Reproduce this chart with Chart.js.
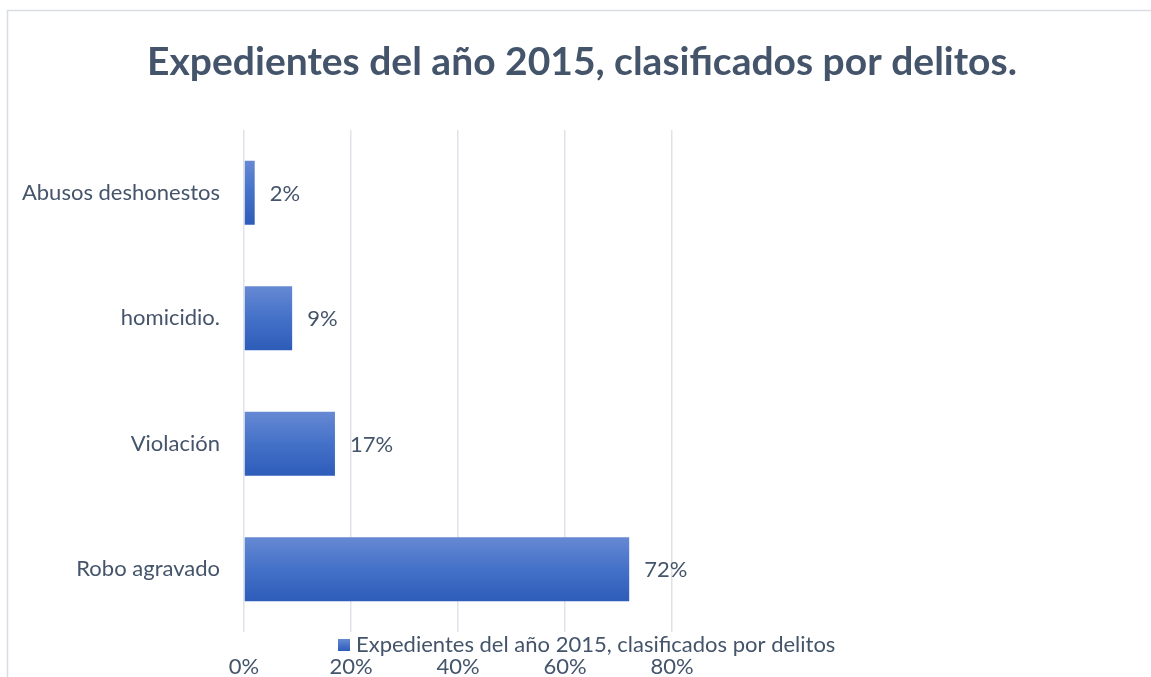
<!DOCTYPE html>
<html>
<head>
<meta charset="utf-8">
<script src="https://cdn.jsdelivr.net/npm/chart.js@4.4.1/dist/chart.umd.min.js"></script>
<style>
  html, body { margin: 0; padding: 0; background: #fff; }
  #wrap { position: relative; width: 1151px; height: 677px; }
</style>
</head>
<body>
<div id="wrap"><canvas id="barChart" width="1151" height="677"></canvas></div>
<script>
// chart data
const titleText = 'Expedientes del año 2015, clasificados por delitos.';
const seriesName = 'Expedientes del año 2015, clasificados por delitos';
const categories = ['Abusos deshonestos', 'homicidio.', 'Violación', 'Robo agravado'];
const values = [0.02, 0.09, 0.17, 0.72];
const tickValues = [0, 0.2, 0.4, 0.6, 0.8];

const textColor = '#44546a';
const FONT = 'Lato';

// per-bar vertical gradient, lighter on top
function barFill(context) {
    const chart = context.chart;
    if (!chart.chartArea || context.dataIndex === undefined) return '#4472c4';
    const y = chart.scales.y.getPixelForValue(context.dataIndex);
    const half = 32;
    const g = chart.ctx.createLinearGradient(0, y - half, 0, y + half);
    g.addColorStop(0, '#6689d3');
    g.addColorStop(0.5, '#4471c8');
    g.addColorStop(1, '#2d5cb9');
    return g;
}

// frame, title, value labels and legend drawn on the canvas
const extras = {
    id: 'extras',
    beforeDraw(chart) {
        const ctx = chart.ctx;
        ctx.save();
        ctx.strokeStyle = '#d9dde3';
        ctx.lineWidth = 1.5;
        ctx.beginPath();
        ctx.moveTo(7.5, 677);
        ctx.lineTo(7.5, 10.5);
        ctx.lineTo(1151, 10.5);
        ctx.stroke();
        ctx.restore();
    },
    afterDraw(chart) {
        const ctx = chart.ctx;
        ctx.save();
        // title
        ctx.fillStyle = textColor;
        ctx.font = 'bold 39px ' + FONT;
        ctx.textAlign = 'center';
        ctx.textBaseline = 'middle';
        ctx.fillText(titleText, 582, 62);

        // value labels
        ctx.font = '22px ' + FONT;
        ctx.textAlign = 'left';
        const meta = chart.getDatasetMeta(0);
        meta.data.forEach((bar, i) => {
            ctx.fillText(Math.round(values[i] * 100) + '%', bar.x + 15, bar.y + 1);
        });

        // legend
        const ds = chart.data.datasets[0];
        const sq = chart.ctx.createLinearGradient(0, 639, 0, 651);
        sq.addColorStop(0, '#6689d3');
        sq.addColorStop(1, '#2d5cb9');
        ctx.fillStyle = sq;
        ctx.fillRect(338, 639, 12, 12);
        ctx.fillStyle = textColor;
        ctx.fillText(ds.label, 356, 645);
        ctx.restore();
    }
};

new Chart(document.getElementById('barChart'), {
    type: 'bar',
    data: {
        labels: categories,
        datasets: [{
            label: seriesName,
            data: values,
            backgroundColor: barFill,
            borderWidth: 0,
            categoryPercentage: 1,
            barPercentage: 0.51
        }]
    },
    options: {
        indexAxis: 'y',
        responsive: false,
        animation: false,
        layout: { padding: { top: 130, right: 479, bottom: 0, left: 0 } },
        plugins: {
            legend: { display: false },
            title: { display: false },
            tooltip: { enabled: false }
        },
        scales: {
            x: {
                min: 0,
                max: 0.8,
                afterBuildTicks(scale) {
                    scale.ticks = tickValues.map(v => ({ value: v }));
                },
                afterFit(scale) { scale.height = 45; },
                grid: { color: '#dfe3e9', lineWidth: 1.5, drawTicks: false },
                border: { display: false },
                ticks: {
                    padding: 22,
                    color: textColor,
                    font: { family: FONT, size: 22 },
                    callback: v => Math.round(v * 100) + '%'
                }
            },
            y: {
                afterFit(scale) { scale.width = 244; },
                grid: { display: false, drawTicks: false },
                border: { display: false },
                ticks: {
                    padding: 24,
                    color: textColor,
                    font: { family: FONT, size: 22 }
                }
            }
        }
    },
    plugins: [extras]
});
</script>
</body>
</html>
